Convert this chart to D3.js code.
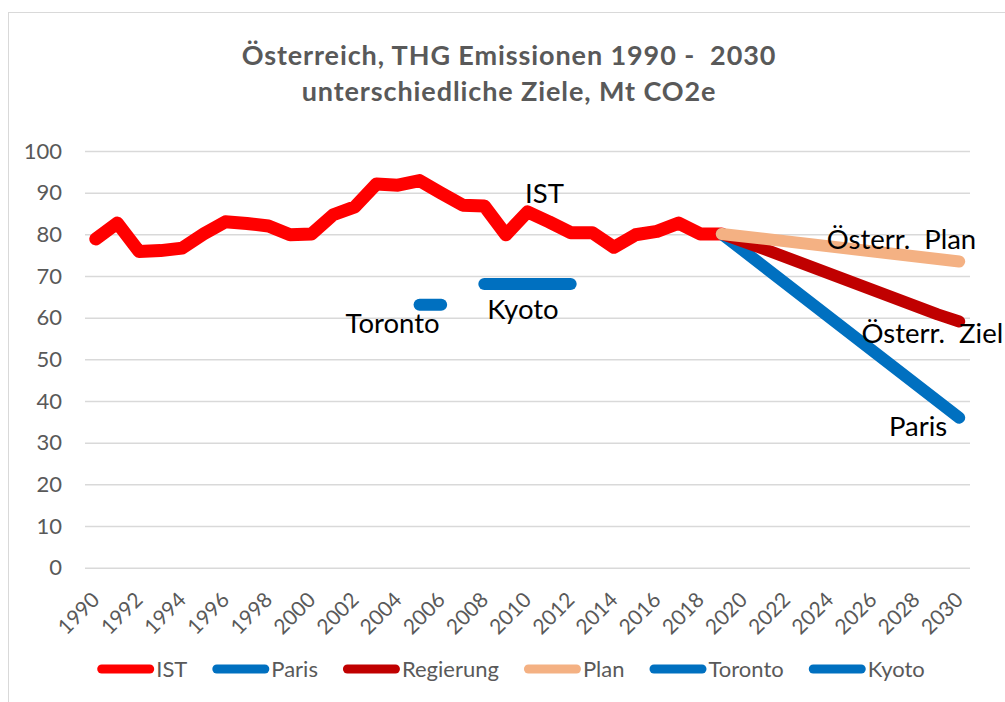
<!DOCTYPE html>
<html>
<head>
<meta charset="utf-8">
<script src="https://cdn.jsdelivr.net/npm/d3@7.9.0/dist/d3.min.js"></script>
<style>
  html, body { margin: 0; padding: 0; background: #fff; }
  svg { display: block; font-family: Lato, 'Noto Sans', sans-serif; }
</style>
</head>
<body>
<svg id="chart" width="1005" height="702"></svg>
<script>
// categories
const years = d3.range(1990, 2031);
const tickYears = [1990, 1992, 1994, 1996, 1998, 2000, 2002, 2004, 2006, 2008, 2010,
  2012, 2014, 2016, 2018, 2020, 2022, 2024, 2026, 2028, 2030];
const yTicks = [0, 10, 20, 30, 40, 50, 60, 70, 80, 90, 100];

// IST 1990 - 2019
const istYears = d3.range(1990, 2020);
const istValues = [78.9, 82.7, 75.9, 76.1, 76.7, 80.1, 83.0, 82.6, 82.0, 79.9,
  80.1, 84.7, 86.6, 92.1, 91.8, 92.9, 89.9, 87.0, 86.8, 79.9,
  85.4, 83.0, 80.4, 80.4, 76.9, 79.9, 80.7, 82.7, 80.1, 80.1];

// targets
const parisYears = [2019, 2030];
const parisValues = [80.1, 36.0];
const regYears = [2019, 2021, 2029, 2030];
const regValues = [80.1, 76.4, 60.8, 59.1];
const planYears = [2019, 2030];
const planValues = [80.1, 73.5];
const torontoYears = [2005, 2006];
const torontoValues = [63.1, 63.1];
const kyotoYears = [2008, 2012];
const kyotoValues = [68.1, 68.1];

const series = [
  { name: 'IST', color: '#ff0000', width: 13, years: istYears, values: istValues },
  { name: 'Paris', color: '#0070c0', width: 12, years: parisYears, values: parisValues },
  { name: 'Regierung', color: '#c00000', width: 12, years: regYears, values: regValues },
  { name: 'Plan', color: '#f4b183', width: 12, years: planYears, values: planValues },
  { name: 'Toronto', color: '#0070c0', width: 12, years: torontoYears, values: torontoValues },
  { name: 'Kyoto', color: '#0070c0', width: 12, years: kyotoYears, values: kyotoValues },
];

const svg = d3.select('#chart');

// chart frame
svg.append('rect')
  .attr('x', 8.5).attr('y', 12.5)
  .attr('width', 1010).attr('height', 700)
  .attr('fill', '#fff')
  .attr('stroke', '#d9d9d9')
  .attr('stroke-width', 1);

// title
const title = svg.append('text')
  .attr('text-anchor', 'middle')
  .attr('fill', '#595959')
  .attr('font-weight', 'bold')
  .attr('font-size', 27)
  .attr('letter-spacing', 0.9)
  .style('white-space', 'pre');
title.append('tspan').attr('x', 509).attr('y', 65).text('Österreich, THG Emissionen 1990 -  2030');
title.append('tspan').attr('x', 509).attr('y', 101).text('unterschiedliche Ziele, Mt CO2e');

const x = d3.scalePoint().domain(years).range([85, 970]).padding(0.5);
const y = d3.scaleLinear().domain([0, 100]).range([567.7, 151]);

// grid + y labels
const yAxis = svg.append('g')
  .attr('transform', 'translate(85,0)')
  .call(d3.axisLeft(y).tickValues(yTicks).tickSize(-885).tickPadding(23));
yAxis.select('.domain').remove();
yAxis.selectAll('line').attr('stroke', '#d9d9d9').attr('stroke-width', 1.5);
yAxis.selectAll('text')
  .attr('fill', '#595959')
  .attr('font-size', 22)
  .attr('font-family', 'Lato, sans-serif');

// x labels
svg.append('g')
  .selectAll('text')
  .data(tickYears)
  .join('text')
  .attr('transform', (d) => `translate(${x(d)},596) rotate(-45)`)
  .attr('text-anchor', 'end')
  .attr('dy', '0.35em')
  .attr('fill', '#595959')
  .attr('font-size', 21)
  .text((d) => d);

// lines
const line = d3.line()
  .x((d) => x(d[0]))
  .y((d) => y(d[1]));

series.forEach((s) => {
  svg.append('path')
    .datum(d3.zip(s.years, s.values))
    .attr('d', line)
    .attr('fill', 'none')
    .attr('stroke', s.color)
    .attr('stroke-width', s.width)
    .attr('stroke-linecap', 'round')
    .attr('stroke-linejoin', 'round');
});

// data labels
const labels = [
  { text: 'IST', year: 2010, value: istValues[20], dx: 17, dy: -9, anchor: 'middle' },
  { text: 'Toronto', year: 2005, value: torontoValues[0], dx: 20, dy: 28, anchor: 'end' },
  { text: 'Kyoto', year: 2008, value: kyotoValues[0], dx: 3, dy: 35, anchor: 'start' },
  { text: 'Österr.  Plan', year: 2030, value: planValues[1], dx: 17, dy: -12, anchor: 'end' },
  { text: 'Österr.  Ziel', year: 2030, value: regValues[3], dx: 44, dy: 22, anchor: 'end' },
  { text: 'Paris', year: 2030, value: parisValues[1], dx: -12, dy: 18, anchor: 'end' },
];

svg.append('g')
  .selectAll('text')
  .data(labels)
  .join('text')
  .attr('x', (d) => x(d.year) + d.dx)
  .attr('y', (d) => y(d.value) + d.dy)
  .attr('text-anchor', (d) => d.anchor)
  .attr('font-size', 27.5)
  .attr('fill', '#000')
  .style('white-space', 'pre')
  .text((d) => d.text);

// legend
const legend = svg.append('g');
const items = legend.selectAll('g')
  .data(series)
  .join('g');
items.append('line')
  .attr('x1', 4.5).attr('x2', 52.5)
  .attr('y1', 0).attr('y2', 0)
  .attr('stroke', (d) => d.color)
  .attr('stroke-width', 9)
  .attr('stroke-linecap', 'round');
items.append('text')
  .attr('x', 59)
  .attr('dy', '0.35em')
  .attr('fill', '#595959')
  .attr('font-size', 22)
  .text((d) => d.name);

let cursor = 0;
const offsets = [];
items.each(function () {
  const w = d3.select(this).select('text').node().getComputedTextLength();
  offsets.push(cursor);
  cursor += 59 + w + 25;
});
const total = cursor - 25;
const start = 511 - total / 2;
items.attr('transform', (d, i) => `translate(${start + offsets[i]},669)`);
</script>
</body>
</html>
